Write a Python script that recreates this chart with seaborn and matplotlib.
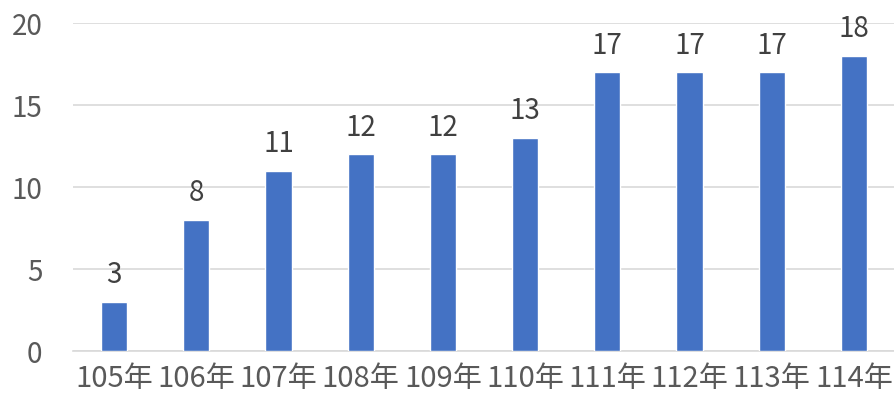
import pandas as pd
import seaborn as sns
import matplotlib.pyplot as plt

years = ["105年", "106年", "107年", "108年", "109年", "110年", "111年", "112年", "113年", "114年"]
counts = [3, 8, 11, 12, 12, 13, 17, 17, 17, 18]

df = pd.DataFrame({"year": years, "count": counts})

sns.set_style("white")
plt.rcParams["font.family"] = ["Noto Sans CJK TC", "DejaVu Sans"]

fig = plt.figure(figsize=(8.95, 4.06), dpi=100)
ax = fig.add_axes([73 / 895, 54 / 406, 822 / 895, 328 / 406])

sns.barplot(data=df, x="year", y="count", color="#4472C4", width=0.32,
            saturation=1, ax=ax, zorder=3)

# etiquetas sobre las barras
for i, v in enumerate(counts):
    ax.text(i, v + 0.75, str(v), ha="center", va="bottom", fontsize=20, color="#404040")

ax.set_ylim(0, 20)
ax.set_xlim(-0.5, 9.5)
ax.set_yticks([0, 5, 10, 15, 20])
ax.yaxis.grid(True, color="#D9D9D9", linewidth=1.2, zorder=0)
ax.set_xlabel("")
ax.set_ylabel("")
for s in ["top", "right", "left"]:
    ax.spines[s].set_visible(False)
ax.spines["bottom"].set_color("#D9D9D9")
ax.spines["bottom"].set_linewidth(1.2)
ax.tick_params(axis="both", length=0, labelcolor="#595959")
ax.tick_params(axis="y", pad=22, labelsize=20)
ax.tick_params(axis="x", pad=9, labelsize=21)

fig.savefig("out.png", dpi=100)
